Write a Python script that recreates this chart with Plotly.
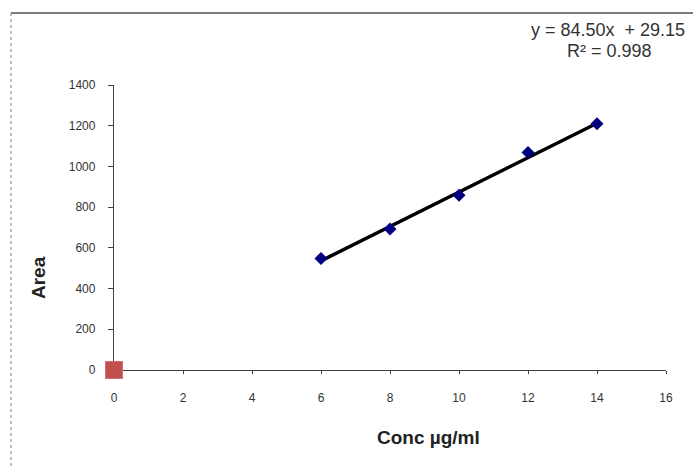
import plotly.graph_objects as go

conc = [6, 8, 10, 12, 14]
area = [548, 693, 858, 1068, 1210]
slope = 84.50
intercept = 29.15
r2 = 0.998
origin_x = [0]
origin_y = [0]
x_ticks = [0, 2, 4, 6, 8, 10, 12, 14, 16]
y_ticks = [0, 200, 400, 600, 800, 1000, 1200, 1400]

fit_x = [min(conc), max(conc)]
fit_y = [slope * v + intercept for v in fit_x]

L, R, T, B = 114, 27, 85, 96
W, H = 693, 466
pw, ph = W - L - R, H - T - B

def px(x):
    return (x - L) / pw

def py(y):
    return (H - B - y) / ph

fig = go.Figure()
fig.add_trace(go.Scatter(x=fit_x, y=fit_y, mode="lines",
                         line=dict(color="black", width=3.5), showlegend=False))
fig.add_trace(go.Scatter(x=conc, y=area, mode="markers",
                         marker=dict(symbol="diamond", size=10, color="#000080"),
                         showlegend=False))
fig.add_trace(go.Scatter(x=origin_x, y=origin_y, mode="markers", cliponaxis=False,
                         marker=dict(symbol="square", size=17, color="#C0504D",
                                     line=dict(color="#D07070", width=1)),
                         showlegend=False))

ff = "Liberation Sans, Arial, sans-serif"
font = dict(family=ff, size=12, color="#333333")
fig.update_layout(
    width=W, height=H,
    margin=dict(l=L, r=R, t=T, b=B),
    plot_bgcolor="white", paper_bgcolor="white",
    xaxis=dict(range=[0, 16], tickvals=x_ticks, showgrid=False, zeroline=False,
               showline=True, linecolor="#404040", linewidth=1.3, layer="below traces",
               ticks="outside", ticklen=3, tickcolor="#404040",
               tickfont=font, ticklabelstandoff=13),
    yaxis=dict(range=[0, 1400], tickvals=y_ticks, showgrid=False, zeroline=False,
               showline=True, linecolor="#404040", linewidth=1.3, layer="below traces",
               ticks="outside", ticklen=5, tickcolor="#404040",
               tickfont=font, ticklabelstandoff=10),
    shapes=[
        dict(type="line", xref="paper", yref="paper", x0=px(11), x1=px(693),
             y0=py(13), y1=py(13), line=dict(color="#505050", width=1.5)),
        dict(type="line", xref="paper", yref="paper", x0=px(11), x1=px(11),
             y0=py(13), y1=py(466), line=dict(color="#808080", width=1, dash="dot")),
    ],
    annotations=[
        dict(text=f"y = {slope:.2f}x  + {intercept:.2f}", xref="paper", yref="paper",
             x=px(608), y=py(30), xanchor="center", yanchor="middle", showarrow=False,
             font=dict(family=ff, size=18, color="#333333")),
        dict(text=f"R² = {r2:.3f}", xref="paper", yref="paper",
             x=px(609), y=py(51), xanchor="center", yanchor="middle", showarrow=False,
             font=dict(family=ff, size=18, color="#333333")),
        dict(text="<b>Area</b>", xref="paper", yref="paper", x=px(38), y=py(278),
             xanchor="center", yanchor="middle",
             textangle=-90, showarrow=False,
             font=dict(family=ff, size=19, color="#222222")),
        dict(text="<b>Conc µg/ml</b>", xref="paper", yref="paper", x=px(428), y=py(437),
             xanchor="center", yanchor="middle", showarrow=False,
             font=dict(family=ff, size=19, color="#222222")),
    ],
)
fig.write_html("out.html")
